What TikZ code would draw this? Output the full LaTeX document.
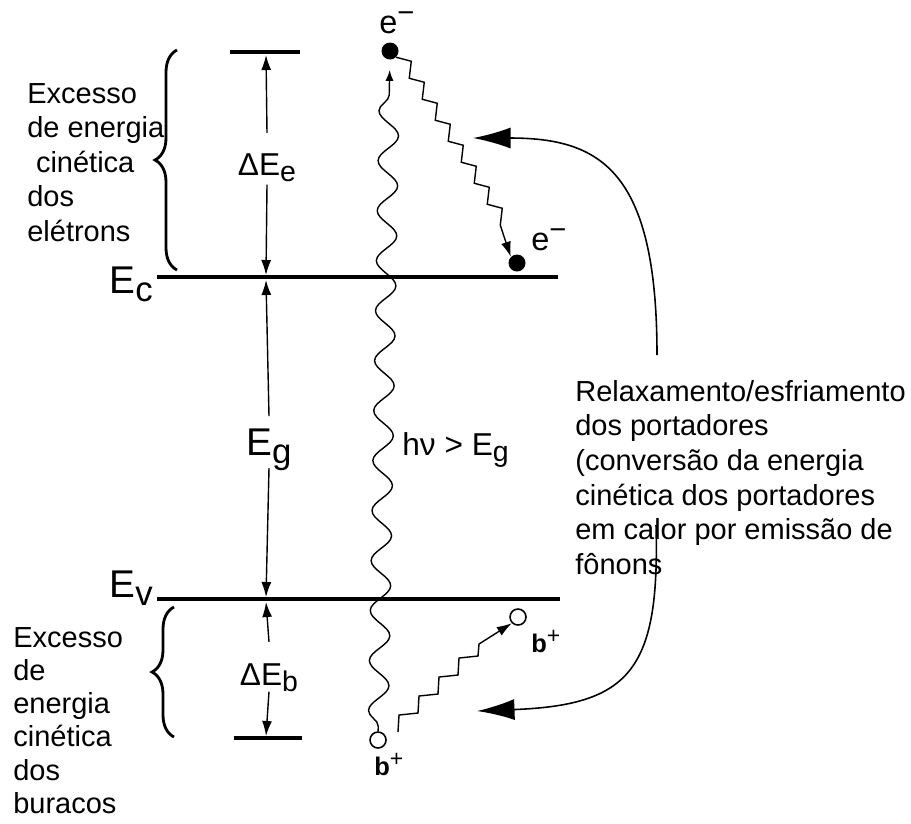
\documentclass[tikz,border=0pt]{standalone}
\usepackage{fontspec}
\setmainfont{Liberation Sans}
\usetikzlibrary{arrows.meta,decorations.pathmorphing,decorations.pathreplacing}

\newcommand{\idx}[1]{\raisebox{-0.22em}{\scalebox{0.9}{#1}}}
\newcommand{\chg}[1]{\raisebox{0.32em}{\scalebox{0.9}{#1}}}

\begin{document}
\begin{tikzpicture}[x=0.02cm,y=-0.02cm,
  level/.style={line width=2.3pt},
  dimarrow/.style={line width=0.8pt,-{Latex[length=0.3cm,width=0.2cm]}},
  cool/.style={line width=0.9pt,-{Latex[length=0.75cm,width=0.42cm]}},
  photon/.style={line width=0.8pt,decorate,decoration={snake,segment length=1cm,amplitude=0.2cm,pre length=0.1cm,post length=0.6cm},-{Latex[length=0.22cm,width=0.16cm]},shorten >=0.2cm},
  phonon/.style={line width=0.8pt,-{Latex[length=0.3cm,width=0.2cm]}},
  edot/.style={circle,fill,inner sep=0pt,minimum size=0.34cm},
  hole/.style={circle,draw,line width=0.9pt,inner sep=0pt,minimum size=0.32cm},
  elabel/.style={inner sep=0pt,font=\fontsize{18.5}{22}\selectfont},
  hlabel/.style={inner sep=0pt,font=\fontsize{14.5}{17}\selectfont},
  lbl/.style={inner sep=0pt,font=\fontsize{18}{21}\selectfont},
  biglbl/.style={inner sep=0pt,font=\fontsize{22}{26}\selectfont},
  note/.style={inner sep=0pt,align=left,anchor=north west},
  curly/.style={line width=1.6pt,decorate,decoration={brace,amplitude=0.44cm}}]
\useasboundingbox (0,0) rectangle (911,823);

% energy levels
\draw[level] (230,52) -- (300,52);
\draw[level] (157,277) -- (558,277);
\draw[level] (157,599) -- (560,599);
\draw[level] (234,738) -- (302,738);
\node[biglbl,anchor=base east] (Ec) at (153,293) {E\idx{c}};
\node[biglbl,anchor=base east] (Ev) at (153,597) {E\idx{v}};

% level marks for the dimension arrows
\coordinate (lvlEe) at (266,55);
\coordinate (lvlEcA) at (266,275);
\coordinate (lvlEcB) at (266,280);
\coordinate (lvlEvA) at (266,597);
\coordinate (lvlEvB) at (266,602);
\coordinate (lvlEb) at (266,736);

\node[lbl,anchor=base] (dEe) at (267,175) {ΔE\idx{e}};
\node[biglbl,anchor=base] (Eg) at (269,455) {E\idx{g}};
\node[lbl,anchor=base] (dEb) at (269,685) {ΔE\idx{b}};
\draw[dimarrow] ([yshift=0.4cm]dEe.north) -- (lvlEe);
\draw[dimarrow] ([yshift=-0.04cm]dEe.south) -- (lvlEcA);
\draw[dimarrow] ([yshift=0.24cm]Eg.north) -- (lvlEcB);
\draw[dimarrow] ([yshift=0.06cm]Eg.south) -- (lvlEvA);
\draw[dimarrow] ([yshift=0.42cm]dEb.north) -- (lvlEvB);
\draw[dimarrow] ([yshift=0.02cm]dEb.south) -- (lvlEb);

% braces and side texts
\draw[curly] (177,270) -- (177,50);
\draw[curly] (174,737) -- (174,607);
\node[note,font=\fontsize{16.5}{19.6}\selectfont] (exce) at (27,83)
  {Excesso\\de energia\\\hspace*{0.3em}cinética\\dos\\elétrons};
\node[note,font=\fontsize{16.5}{18.9}\selectfont] (excb) at (13,627)
  {Excesso\\de\\energia\\cinética\\dos\\buracos};

% carriers
\node[edot] (etop) at (390,51) {};
\node[edot] (edown) at (517,263) {};
\node[hole] (htop) at (518,617) {};
\node[hole] (hbot) at (378,740) {};
\node[elabel,anchor=base west] (etoplbl) at (379,33) {e\chg{−}};
\node[elabel,anchor=base west] (edownlbl) at (531,250) {e\chg{−}};
\node[hlabel,anchor=base west] (htoplbl) at (531,652) {\textbf{b}\chg{+}};
\node[hlabel,anchor=base west] (hbotlbl) at (374,775) {\textbf{b}\chg{+}};

% photon
\draw[photon] (hbot) -- (etop);
\node[lbl,anchor=base west] (hnu) at (402,455) {hν > E\idx{g}};

% phonon cascades
\draw[phonon] (etop.south east)
  \foreach \k in {1,...,8} { -- ++(15,4) -- ++(-2,17) } -- (edown.north west);
\coordinate (hstart) at (398,732);
\draw[phonon] (hstart)
  \foreach \k in {1,...,4} { -- ++(1,-17) -- ++(19,-2) } -- ++(1,-12) -- (htop.south west);

% relaxation
\node[note,font=\fontsize{16.5}{19.7}\selectfont] (relax) at (575,380)
  {Relaxamento/esfriamento\\dos portadores\\(conversão da energia\\cinética dos portadores\\em calor por emissão de\\fônons};
\coordinate (relaxtop) at (657,355);
\coordinate (relaxbot) at (656,525);
\coordinate (coolE) at (473,138);
\coordinate (coolB) at (477,711);
\draw[cool] (relaxtop) .. controls (657,170) and (600,138) .. (coolE);
\draw[cool] (relaxbot) .. controls (660,670) and (630,705) .. (coolB);
\end{tikzpicture}
\end{document}
